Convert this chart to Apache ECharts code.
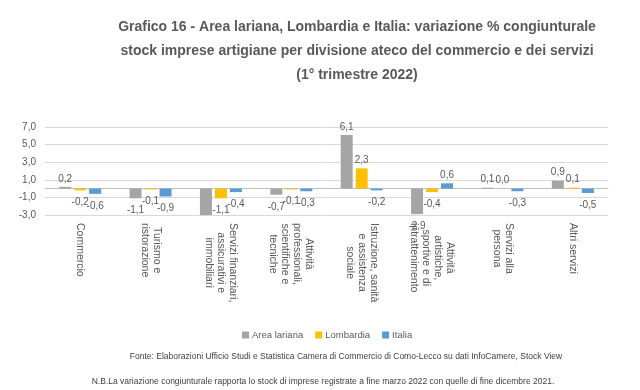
<!DOCTYPE html>
<html><head><meta charset="utf-8">
<script src="https://cdn.jsdelivr.net/npm/echarts@6/dist/echarts.min.js"></script>
<style>html,body{margin:0;padding:0;background:#fff}#c{width:640px;height:390px}</style>
</head><body><div id="c"></div>
<script>
const categories = [
  "Commercio",
  "Turismo e\nristorazione",
  "Servizi finanziari,\nassicurativi e\nimmobiliari",
  "Attività\nprofessionali,\nscientifiche e\ntecniche",
  "Istruzione, sanità\ne assistenza\nsociale",
  "Attività\nartistiche,\nsportive e di\nintrattenimento",
  "Servizi alla\npersona",
  "Altri servizi"
];
const areaLariana = [0.2, -1.1, -3.1, -0.7, 6.1, -2.9, 0.1, 0.9];
const lombardia   = [-0.2, -0.1, -1.1, -0.1, 2.3, -0.4, 0.0, 0.1];
const italia      = [-0.6, -0.9, -0.4, -0.3, -0.2, 0.6, -0.3, -0.5];
const seriesNames = ["Area lariana", "Lombardia", "Italia"];
const colors = ["#A5A5A5", "#FFC000", "#5B9BD5"];
const yMin = -3, yMax = 7, yInterval = 2;

const FONT = "'Liberation Sans', 'Noto Sans', sans-serif";
const fmt = v => v.toFixed(1).replace('.', ',');

function mk(name, vals, color) {
  return {
    name, type: 'bar', barWidth: 12, barGap: '25%', clip: true,
    itemStyle: { color },
    data: vals.map(v => ({
      value: v,
      label: { position: v >= 0 ? 'top' : 'bottom', distance: v >= 0 ? 3 : 7 }
    })),
    label: {
      show: true, color: '#595959', fontSize: 10, fontFamily: FONT,
      formatter: p => p.value < yMin ? '' : fmt(p.value)
    }
  };
}

const chart = echarts.init(document.getElementById('c'), null, { renderer: 'canvas' });
chart.setOption({
  animation: false,
  title: [
    { text: "Grafico 16 - Area lariana, Lombardia e Italia: variazione % congiunturale\nstock imprese artigiane per divisione ateco del commercio e dei servizi\n(1° trimestre 2022)",
      left: 352, top: 10, textAlign: 'center',
      textStyle: { fontFamily: FONT, fontWeight: 'bold', fontSize: 14, color: '#595959', lineHeight: 24 } },
    { text: "Fonte: Elaborazioni Ufficio Studi e Statistica Camera di Commercio di Como-Lecco su dati InfoCamere, Stock View",
      left: 341, top: 347, textAlign: 'center',
      textStyle: { fontFamily: FONT, fontWeight: 'normal', fontSize: 8.5, color: '#404040' } },
    { text: "N.B.La variazione congiunturale rapporta lo stock di imprese registrate a fine marzo 2022 con quelle di fine dicembre 2021.",
      left: 318, top: 372, textAlign: 'center',
      textStyle: { fontFamily: FONT, fontWeight: 'normal', fontSize: 8.5, color: '#404040' } }
  ],
  legend: {
    data: seriesNames, left: 237, top: 325, itemWidth: 7, itemHeight: 7, itemGap: 12,
    icon: 'rect',
    textStyle: { fontFamily: FONT, fontSize: 9.5, color: '#595959', padding: [0, 0, 0, -2] }
  },
  grid: { left: 45, right: 32, top: 127, height: 88 },
  xAxis: {
    type: 'category', data: categories,
    axisLine: { onZero: true, lineStyle: { color: '#BFBFBF' } },
    axisTick: { show: false },
    axisLabel: {
      interval: 0, rotate: -90, margin: 8, color: '#595959',
      fontFamily: FONT, fontSize: 11, lineHeight: 12,
      formatter: v => v.split('\n').map(l => '{c|' + l + '}').join('\n'),
      rich: { c: { align: 'center', fontFamily: FONT, fontSize: 10.5, lineHeight: 12, color: '#595959' } }
    }
  },
  yAxis: {
    type: 'value', min: yMin, max: yMax, interval: yInterval,
    axisLine: { show: false }, axisTick: { show: false },
    axisLabel: { color: '#595959', fontFamily: FONT, fontSize: 10, margin: 9, formatter: v => fmt(v) },
    splitLine: { lineStyle: { color: '#D9D9D9' } }
  },
  series: [
    mk(seriesNames[0], areaLariana, colors[0]),
    mk(seriesNames[1], lombardia, colors[1]),
    mk(seriesNames[2], italia, colors[2])
  ]
});
</script>
</body></html>
